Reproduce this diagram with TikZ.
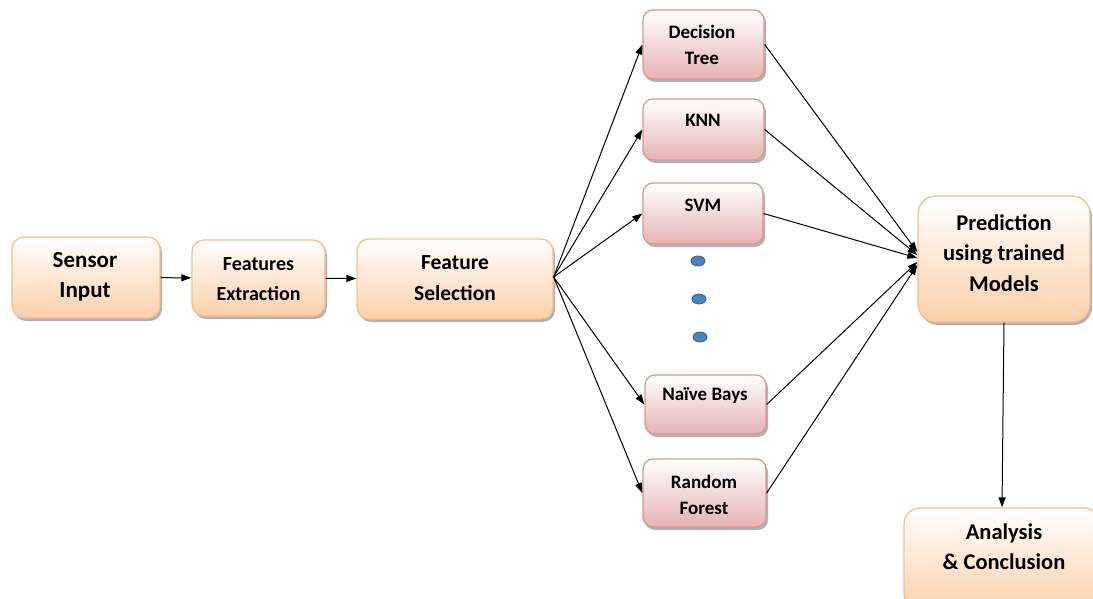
\documentclass[tikz,border=0pt]{standalone}
\usepackage{fontspec}
\setmainfont{Carlito}
\usetikzlibrary{arrows.meta,shapes.geometric,shadows}

\definecolor{peachfill}{HTML}{FBD0AA}
\definecolor{peachline}{HTML}{F8BD8E}
\definecolor{pinkfill}{HTML}{E5B3B2}
\definecolor{pinkline}{HTML}{D99694}
\definecolor{dotfill}{HTML}{4F81BD}
\definecolor{dotline}{HTML}{385D8A}

\tikzset{
  orangebox/.style={draw=peachline, line width=1.3pt, rounded corners=12pt,
    top color=white, bottom color=peachfill, inner sep=0pt,
    drop shadow={shadow xshift=2pt, shadow yshift=-3pt, fill=black, opacity=0.3}},
  pinkbox/.style={draw=pinkline, line width=1.3pt, rounded corners=10pt,
    top color=white, bottom color=pinkfill, inner sep=0pt,
    drop shadow={shadow xshift=2pt, shadow yshift=-3pt, fill=black, opacity=0.3}},
  bigtext/.style={font=\bfseries\fontsize{#1}{30.5}\selectfont, align=center, inner sep=0pt},
  bigtext/.default=21,
  smalltext/.style={font=\bfseries\fontsize{19}{26}\selectfont, align=center, inner sep=0pt},
  link/.style={-{Triangle[length=10pt,width=7pt]}, line width=1pt},
  dot/.style={ellipse, draw=dotline, fill=dotfill, line width=0.8pt,
    minimum width=14pt, minimum height=10pt, inner sep=0pt}
}

\begin{document}
\begin{tikzpicture}[x=1pt,y=-1pt]
\useasboundingbox (0,0) rectangle (1093,599);

% pipeline boxes
\node[orangebox, minimum width=148, minimum height=81] (sensor) at (86,277.5) {};
\node[bigtext=23] (sensor-t) at (85,277) {Sensor\\Input};
\node[orangebox, minimum width=133, minimum height=76] (extract) at (258.5,278) {};
\node[bigtext=20] (extract-t) at (258.5,279) {Features\\Extraction};
\node[orangebox, minimum width=196, minimum height=80] (select) at (455,279) {};
\node[bigtext=21.5] (select-t) at (455,278) {Feature\\Selection};

% classifiers
\node[pinkbox, minimum width=121, minimum height=69] (dt) at (703.5,44.5) {};
\node[smalltext] (dt-t) at (702,45) {Decision\\Tree};
\node[pinkbox, minimum width=121, minimum height=61] (knn) at (703.5,129.5) {};
\node[smalltext] (knn-t) at (703,120) {KNN};
\node[pinkbox, minimum width=120, minimum height=61] (svm) at (703,213.5) {};
\node[smalltext] (svm-t) at (703,205) {SVM};
\node[pinkbox, minimum width=121, minimum height=59] (nb) at (705.5,404.5) {};
\node[smalltext] (nb-t) at (705,396) {Naïve Bays};
\node[pinkbox, minimum width=123, minimum height=68] (rf) at (704.5,493) {};
\node[smalltext] (rf-t) at (704,495) {Random\\Forest};

\foreach \x/\y [count=\i] in {698/261, 699/299, 700/337}
  \node[dot] (dot\i) at (\x,\y) {};

% output boxes
\node[orangebox, rounded corners=18pt, minimum width=172, minimum height=126] (pred) at (1004,259) {};
\node[bigtext=22.5] (pred-t) at (1004,253) {Prediction\\using trained\\Models};
\node[orangebox, rounded corners=16pt, minimum width=196, minimum height=102] (result) at (1002,559) {};
\node[bigtext=22.5] (result-t) at (1004,546.5) {Analysis\\\& Conclusion};

% connectors
\draw[link] (sensor) -- (extract);
\draw[link] (extract) -- (select);
\foreach \m in {dt,knn,svm,nb,rf}
  \draw[link] ([yshift=2pt]select.east) -- (\m.west);
\draw[link] (dt.east) -- ([yshift=7pt]pred.west);
\draw[link] (knn.east) -- ([yshift=4pt]pred.west);
\draw[link] (svm.east) -- ([yshift=1pt]pred.west);
\draw[link] (nb.east) -- ([yshift=-3pt]pred.west);
\draw[link] (rf.east) -- ([yshift=-6pt]pred.west);
\draw[link] (pred.south) -- (result.north);
\end{tikzpicture}
\end{document}
